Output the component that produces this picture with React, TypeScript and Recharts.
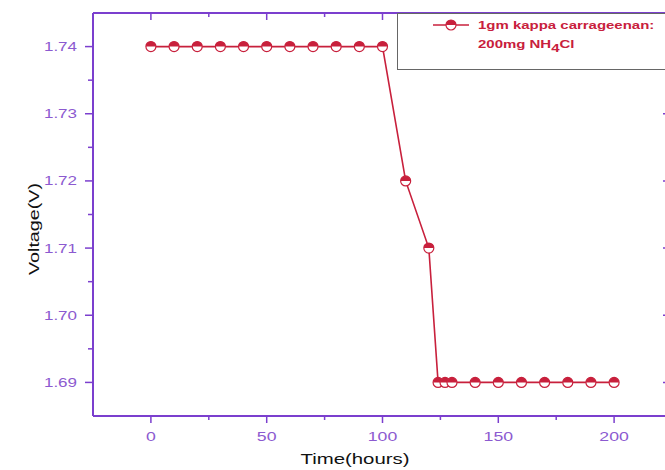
import React from 'react';
import { LineChart, Line, XAxis, YAxis, Legend } from 'recharts';

// values
const times = [0, 10, 20, 30, 40, 50, 60, 70, 80, 90, 100, 110, 120, 124, 127, 130, 140, 150, 160, 170, 180, 190, 200];
const voltages = [
  1.74, 1.74, 1.74, 1.74, 1.74, 1.74, 1.74, 1.74, 1.74, 1.74, 1.74,
  1.72, 1.71,
  1.69, 1.69, 1.69, 1.69, 1.69, 1.69, 1.69, 1.69, 1.69, 1.69,
];
const xTicks = [0, 25, 50, 75, 100, 125, 150, 175, 200, 225];
const yTicks = [1.69, 1.695, 1.7, 1.705, 1.71, 1.715, 1.72, 1.725, 1.73, 1.735, 1.74];

const data = times.map((t, i) => ({ time: t, voltage: voltages[i] }));

const AXIS = '#7b3fce';
const LABEL = '#8c5ad0';
const RED = '#c8203c';
const FONT = '"Liberation Sans", Arial, sans-serif';
const SX = 1.36;

const isMajorX = (v: number) => v % 50 === 0;
const isMajorY = (v: number) => Math.round(v * 1000) % 10 === 0;

const BottomTick = ({ x, y, payload }: any) => {
  const major = isMajorX(payload.value);
  return (
    <g>
      <line x1={x} y1={y} x2={x} y2={y + (major ? 7 : 4)} stroke={AXIS} strokeWidth={1.5} />
      {major && (
        <text transform={`translate(${x},${y + 25}) scale(${SX},1)`} textAnchor="middle"
          fill={LABEL} fontSize={13} fontFamily={FONT}>
          {payload.value}
        </text>
      )}
    </g>
  );
};

const TopTick = ({ x, y, payload }: any) => {
  const major = isMajorX(payload.value);
  return <line x1={x} y1={y} x2={x} y2={y + (major ? 7 : 4)} stroke={AXIS} strokeWidth={1.5} />;
};

const LeftTick = ({ x, y, payload }: any) => {
  const major = isMajorY(payload.value);
  return (
    <g>
      <line x1={x - (major ? 8 : 5)} y1={y} x2={x} y2={y} stroke={AXIS} strokeWidth={1.5} />
      {major && (
        <text transform={`translate(${x - 16},${y + 4.5}) scale(${SX},1)`} textAnchor="end"
          fill={LABEL} fontSize={12.5} fontFamily={FONT}>
          {payload.value.toFixed(2)}
        </text>
      )}
    </g>
  );
};

const RightTick = ({ x, y, payload }: any) => {
  const major = isMajorY(payload.value);
  return <line x1={x - (major ? 9 : 6)} y1={y} x2={x} y2={y} stroke={AXIS} strokeWidth={1.5} />;
};

const HalfDot = ({ cx, cy, r = 5 }: any) => (
  <g>
    <circle cx={cx} cy={cy} r={r} fill="#fff" stroke={RED} strokeWidth={1.2} />
    <path d={`M${cx - r},${cy} A${r},${r} 0 0 1 ${cx + r},${cy} Z`} fill={RED} />
  </g>
);

const LegendBox = () => (
  <div style={{
    width: 290, height: 57, border: '1px solid #666', background: '#fff', position: 'relative',
    fontFamily: FONT, fontWeight: 'bold', fontSize: 11, color: RED, boxSizing: 'border-box',
  }}>
    <svg width={40} height={20} style={{ position: 'absolute', left: 34, top: 1 }}>
      <line x1={1} y1={10} x2={37} y2={10} stroke={RED} strokeWidth={1.6} />
      <HalfDot cx={19} cy={10} />
    </svg>
    <div style={{ position: 'absolute', left: 80, top: 5, whiteSpace: 'nowrap', transform: `scaleX(${SX})`, transformOrigin: 'left top' }}>
      1gm kappa carrageenan:
    </div>
    <div style={{ position: 'absolute', left: 80, top: 24, whiteSpace: 'nowrap', transform: `scaleX(${SX})`, transformOrigin: 'left top' }}>
      200mg NH<sub style={{ fontSize: 11, verticalAlign: -4 }}>4</sub>Cl
    </div>
  </div>
);

export default function App() {
  return (
    <div style={{ position: 'fixed', left: 0, top: 0, width: 665, height: 470, overflow: 'hidden', background: '#fff' }}>
      <LineChart width={700} height={470} data={data} margin={{ top: 0, right: 0, bottom: 0, left: 0 }}>
        <XAxis dataKey="time" type="number" domain={[-25, 225]} ticks={xTicks} allowDataOverflow
          height={54} tickSize={0} tickMargin={0} tick={<BottomTick />} interval={0}
          axisLine={{ stroke: AXIS, strokeWidth: 2 }}
          label={{ content: () => (
            <text transform={`translate(355,464) scale(${SX},1)`} textAnchor="middle" fontSize={15}
              fontFamily={FONT} fill="#111">Time(hours)</text>
          ) }} />
        <XAxis xAxisId="top" dataKey="time" type="number" orientation="top" domain={[-25, 225]} ticks={xTicks}
          allowDataOverflow height={13} tickSize={0} tickMargin={0} tick={<TopTick />} interval={0}
          axisLine={{ stroke: AXIS, strokeWidth: 2 }} />
        <YAxis type="number" domain={[1.685, 1.745]} ticks={yTicks} allowDataOverflow width={93}
          tickSize={0} tickMargin={0} tick={<LeftTick />} interval={0}
          axisLine={{ stroke: AXIS, strokeWidth: 2 }}
          label={{ content: () => (
            <text transform={`translate(39,229) rotate(-90) scale(${SX},1)`} textAnchor="middle" fontSize={14.5}
              fontFamily={FONT} fill="#111">Voltage(V)</text>
          ) }} />
        <YAxis yAxisId="right" orientation="right" type="number" domain={[1.685, 1.745]} ticks={yTicks}
          allowDataOverflow width={28} tickSize={0} tickMargin={0} tick={<RightTick />} interval={0}
          axisLine={{ stroke: AXIS, strokeWidth: 2 }} />
        <Legend layout="horizontal" align="center" verticalAlign="middle" content={<LegendBox />}
          wrapperStyle={{ left: 397, top: 13, width: 290, height: 57 }} />
        <Line type="linear" dataKey="voltage" stroke={RED} strokeWidth={1.6} isAnimationActive={false}
          dot={(p: any) => <HalfDot key={p.index} cx={p.cx} cy={p.cy} />} activeDot={false} />
      </LineChart>
    </div>
  );
}
